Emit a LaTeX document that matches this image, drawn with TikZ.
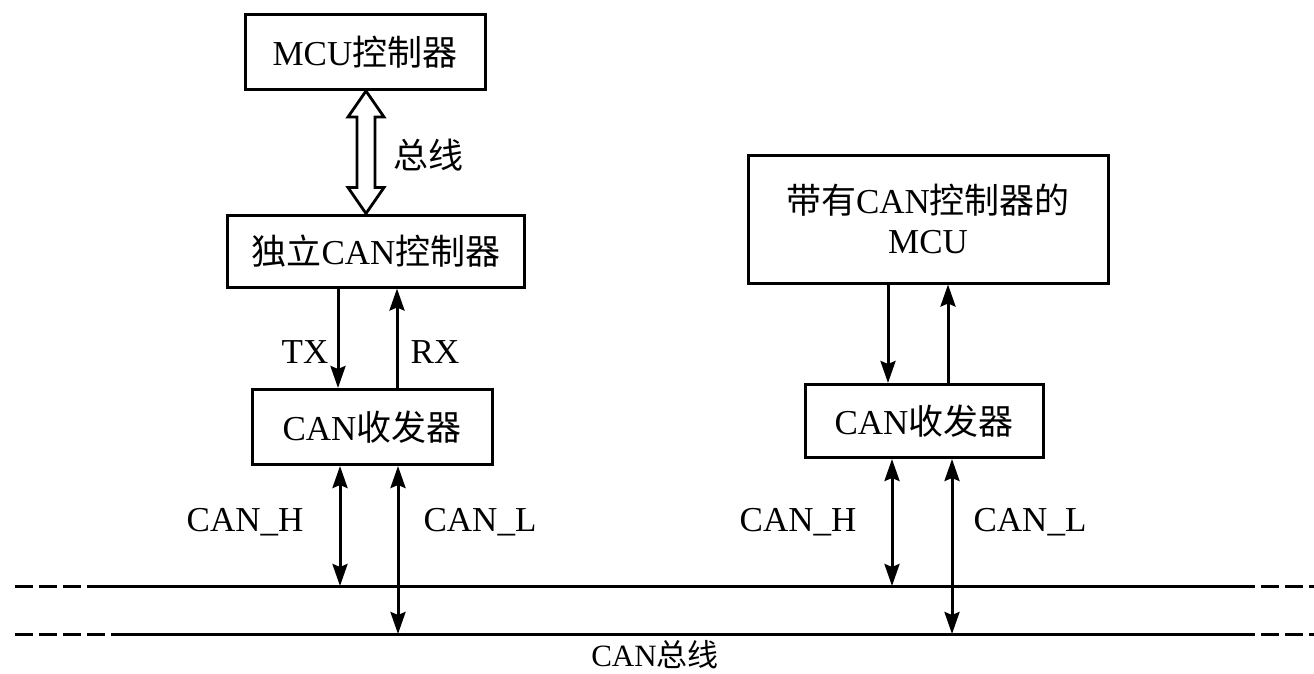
\documentclass[tikz,border=0pt]{standalone}
\usepackage{fontspec}
\setmainfont{Liberation Serif}
\newfontfamily\cjk{Noto Sans CJK SC}
\usetikzlibrary{arrows.meta,calc}

\tikzset{
  box/.style={draw,line width=3pt,inner sep=0pt,align=center},
  sig/.style={line width=3pt,-{Stealth[length=22pt,width=15pt,inset=3pt]}},
  dsig/.style={line width=3pt,{Stealth[length=22pt,width=15pt,inset=3pt]}-{Stealth[length=22pt,width=15pt,inset=3pt]}},
  bus/.style={line width=3pt},
  busdash/.style={line width=3pt,dash pattern=on 18pt off 6pt},
  lbl/.style={inner sep=0pt}
}

\begin{document}
\begin{tikzpicture}[x=1pt,y=-1pt,font=\fontsize{35}{40}\selectfont]
\useasboundingbox (0,0) rectangle (1314,674);

% boxes
\path
(365,52) node[box,minimum width=240pt,minimum height=75pt](mcu) {MCU{\cjk 控制器}}
(376,251) node[box,minimum width=297pt,minimum height=72pt](ctrl) {{\cjk 独立}CAN{\cjk 控制器}}
(372,427) node[box,minimum width=240pt,minimum height=75pt](trx1) {CAN{\cjk 收发器}}
(928,219) node[box,minimum width=360pt,minimum height=128pt](mcu2) {{\cjk 带有}CAN{\cjk 控制器的}\\MCU}
(924,421) node[box,minimum width=238pt,minimum height=73pt](trx2) {CAN{\cjk 收发器}};

% x positions of the connectors
\coordinate (bsx) at (366,0);
\coordinate (txx) at (338,0);
\coordinate (rxx) at (397,0);
\coordinate (chx) at (340,0);
\coordinate (clx) at (398,0);
\coordinate (tx2) at (888,0);
\coordinate (rx2) at (948,0);
\coordinate (ch2) at (892,0);
\coordinate (cl2) at (952,0);

% bus lines
\coordinate (hL) at (15,586);
\coordinate (hA) at (100,586);
\coordinate (hB) at (1237,586);
\coordinate (hR) at (1314,586);
\coordinate (lL) at (15,634);
\coordinate (lA) at (115,634);
\coordinate (lB) at (1237,634);
\coordinate (lR) at (1314,634);
\draw[busdash] (hL) -- (hA);
\draw[bus] (hA) -- (hB);
\draw[busdash] (hB) -- (hR);
\draw[busdash] (lL) -- (lA);
\draw[bus] (lA) -- (lB);
\draw[busdash] (lB) -- (lR);

% hollow bus arrow
\draw[line width=2.8pt,line join=miter]
  (mcu.south -| bsx) -- ($(mcu.south -| bsx)+(18,26)$) -- ($(mcu.south -| bsx)+(9,26)$)
  -- ($(ctrl.north -| bsx)+(9,-26)$) -- ($(ctrl.north -| bsx)+(18,-26)$) -- (ctrl.north -| bsx)
  -- ($(ctrl.north -| bsx)+(-18,-26)$) -- ($(ctrl.north -| bsx)+(-9,-26)$)
  -- ($(mcu.south -| bsx)+(-9,26)$) -- ($(mcu.south -| bsx)+(-18,26)$) -- cycle;

% left node
\draw[sig] (ctrl.south -| txx) -- (trx1.north -| txx);
\draw[sig] (trx1.north -| rxx) -- (ctrl.south -| rxx);
\draw[dsig] (trx1.south -| chx) -- (hA -| chx);
\draw[dsig] (trx1.south -| clx) -- (lA -| clx);

% right node
\draw[sig] (mcu2.south -| tx2) -- (trx2.north -| tx2);
\draw[sig] (trx2.north -| rx2) -- (mcu2.south -| rx2);
\draw[dsig] (trx2.south -| ch2) -- (hA -| ch2);
\draw[dsig] (trx2.south -| cl2) -- (lA -| cl2);

% labels
\path
(428,155) node[lbl](bslbl) {\cjk 总线}
(305,352) node[lbl](txlbl) {TX}
(435,352) node[lbl](rxlbl) {RX}
(245,522) node[lbl](ch1lbl) {CAN\_H}
(480,522) node[lbl](cl1lbl) {CAN\_L}
(798,522) node[lbl](ch2lbl) {CAN\_H}
(1030,522) node[lbl](cl2lbl) {CAN\_L}
(655,655) node[lbl,font=\fontsize{31}{36}\selectfont](buslbl) {CAN{\cjk 总线}};
\end{tikzpicture}
\end{document}
